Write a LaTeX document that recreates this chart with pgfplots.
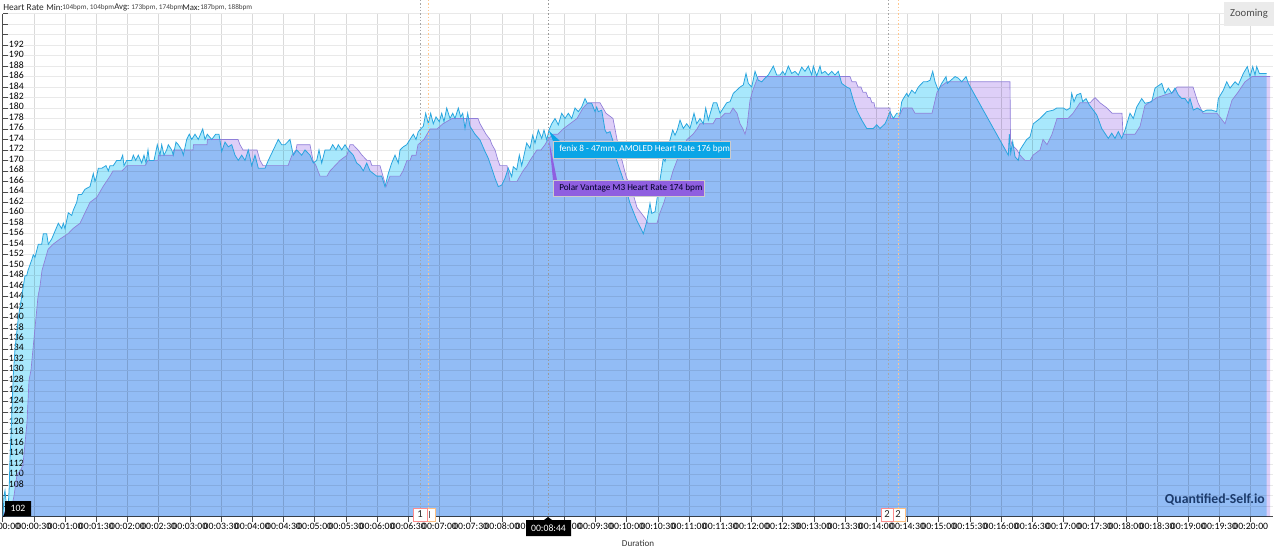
\documentclass[border=0pt]{standalone}
\usepackage{fontspec}
\setmainfont{Carlito}
\usepackage{pgfplots}
\usepackage{pgfplotstable}
\pgfplotsset{compat=1.18}
\definecolor{gridc}{HTML}{DADADA}
\definecolor{gridh}{HTML}{E9E9E9}
\definecolor{fenixfill}{RGB}{168,232,252}
\definecolor{polarfill}{RGB}{222,207,248}
\definecolor{fenixline}{HTML}{2AA5DE}
\definecolor{polarline}{HTML}{8F7FD8}
\definecolor{tipblue}{HTML}{0AA5E6}
\definecolor{tippurple}{HTML}{8F5FE0}
\definecolor{wm}{HTML}{1B3A6B}
\newcommand{\fs}[1]{\fontsize{#1}{#1}\selectfont}
% p = horizontal read-off position, converted to seconds by the axis; v = bpm
\pgfplotstableread{
p v
3 102
4 106
5 107
6 105
7 104
8 103
9.3 108
10 113
11.7 121
13.3 129
15 134
16.7 137
18.3 140
20 142
21.7 144
23.3 146
25 148
26.7 148
28 149
31.7 151
33.3 152
35 151.5
38.3 154
41.7 154
43.3 156
46.7 156
48.3 154
51.7 155
55 156.5
58.3 158
61.7 157
63.3 158
65 157
68.3 160
71.7 159.5
73.3 160.5
76.7 162
78.3 163.5
81.7 163.5
85 164.5
90 165
93.3 167.5
95 166
96.7 167
98.3 168.5
101.7 168.5
106 169
108.3 168
110 169
113.3 169
116.7 170
120.7 170
122.7 171
124 169
126.7 170
131.7 170
133.3 171
135.7 170
138.3 171
141.7 169.5
144 171
146 169.5
148 172
149.3 170
154 170
157.3 173
160 171
161.7 173
164 171
166.7 172
168.3 173
171.7 172
173.3 171
176 173.5
178.3 173
181.7 172
183.3 171
186.7 174
189.3 175
191.7 174
195 175
198.3 174
202.7 176
205 174
207.3 175
211.7 174
215.7 175
219 175
221.7 171.7
225 173.5
228.3 172.6
231.7 173
235 171
238.3 170
241.7 171
245 170
248.3 172
251.7 169
255 171
258.3 168.5
265 168.5
268.3 170
273.3 172
278.3 174
281.7 173
285 173
290 174
293.3 171
296.7 172
301.7 171
305 172
310 171
313.3 169.5
316.7 170
319 172
321.7 169.5
325 172
330 172
332.7 173
336 172
338.3 173
341.7 172
345 173
348.3 172
353.3 171
356.7 169.5
360 169
363.3 168
366.7 169.5
370 168
373.3 167.5
376.7 167
381.7 167
385 165
388.3 167.5
391.7 169.5
395 171
398.3 169.5
400 172
403.3 172.6
406.7 173
410 174
413.3 175
416 174
418.3 175.5
420.7 176
423.3 176.5
425.7 179
428.3 177
430.7 179
433.3 177
436 178.3
439.3 177.4
441.7 179
444 177.4
446.7 180
450 178
452.7 179
455 178
458.3 180
460.7 178.3
462.7 179
465 176.1
467.7 179
470 176.5
471.7 176
475 175
480 173.9
485 171.7
488.3 170.4
491.7 168.5
495 166.6
498.3 165
501.7 165.3
505 166.6
508.3 168.5
511.7 166.9
513.3 168.8
516.7 168.2
519.3 171
521.7 169
524 171
526.7 173.3
530 172.3
532.7 174.8
535 173.3
538.3 175.8
541.7 174.2
544 175.8
546.7 173.9
549 175.8
551.7 177
555 178
558.3 176.8
561.7 179
565 178
568.3 179
571.7 178
575 180
578.3 179.3
581.7 180.2
585 181.8
587.3 180.9
591.7 180.9
595 179.3
596.7 180.2
598.3 179.3
601.7 179.6
605 175.8
606.7 175.2
610 175.5
613.3 173.5
616.7 170
623.3 166.3
630 161.8
636.7 158.6
641.7 156.7
643.3 156
646.7 158.3
650 161.8
651.7 159.9
655 160.2
660 166.3
663.3 170.4
665 169.8
670 173.9
672.7 175.8
675 174.8
677.3 175.8
680 177.7
683.3 176.1
686.7 177
690 176.1
694 179
696.7 177
700 178
703.3 177
705.7 180
708.3 177.7
713.3 181
716.7 181
720 179
726.7 181
730 181.2
733.3 182.8
736.7 183.4
740 184
743.3 184.4
746 186.6
748.3 184.7
751.7 184
755 187
758.3 185.3
761.7 185
765 185.7
768.3 186.3
773.3 188
776.7 186.3
780 186.3
782.7 187
785 186.3
788.3 188
791.7 186.6
795 187
798.3 186.3
801.7 187.8
805 187
808.3 188
811.7 186.3
813.3 188
816.7 186.1
820 188
821.7 186.6
825 187
828.3 186.3
831.7 187
835 186.3
838.3 187
841.7 184.7
846.7 184
850 183.7
853.3 181.5
856.7 179.6
861.7 177.7
866.7 176.1
873.3 176.1
876.7 176.8
880 176.1
885 177
886.7 177.7
890 179.3
893.3 178
896.7 179
900 179
901.7 181.2
903.3 181.8
906.7 182.8
908.3 182.2
911.7 183.4
915 182.8
918.3 184
923.3 185
926.7 185
930 185.3
932.7 187
935 185
938.3 183.4
941.7 184.7
946 186
947.3 184.7
955 186
958.3 185.7
961.7 185
966 186
968.3 184.7
1008.3 171
1009.3 175
1010.7 171.4
1012.7 173.6
1015 170.7
1018.3 170
1020 172
1023.3 173
1026.7 174
1030 174.5
1031.7 175.8
1033.3 177
1040 178
1046.7 179.3
1053.3 179.6
1056.7 180
1063.3 180
1066.7 179.6
1070 180
1071.7 182.8
1074 181.2
1076.7 182.5
1080.7 182.8
1082.7 181.2
1086 181.8
1089.3 180.6
1096.7 178.7
1101.7 176.1
1108.3 174.2
1111.7 175.2
1115 174.2
1118.3 175.5
1121.7 174.2
1125 175.8
1130 179
1133.3 178
1136.7 180.2
1141.7 181.8
1145 180.9
1151.7 181.2
1155 183.8
1161.7 184.7
1165 182.8
1168.3 183.8
1171.7 182.8
1175 183.8
1178.3 182.5
1181.7 181.8
1185 181.8
1188.3 180.9
1190 181.8
1193.3 179.6
1197.3 180
1203.3 179.3
1206.7 179.6
1211.7 179.6
1216.7 179.3
1218.3 181.8
1223.3 183.4
1226.7 185
1230 183.8
1235 185
1238.3 184.4
1243.3 186.6
1247.3 187.9
1250 186
1252.7 187.9
1255 186.3
1256.7 187.9
1259.3 186.6
1266.7 186.6
}\fenix
\pgfplotstableread{
p v
3 102
5 103
8 104
12 104
14 106
17 110
21 111
23 112
25 116
27 120
28 124
29 128
31 130
33 134
35 138
37 142
38 144
40 146
42 149
45 151
48 153
53 154
60 155
68 156
73 157
80 158
85 160
90 162
97 163
103 165
110 167
113 168
122 168
127 169
145 169
148 170
158 170
158.5 171
173 171
173.5 172
193 172
193.5 173
207 173
207.5 174
238 174
240 173
243 172
257 172
260 170
263 169
288 169
290 170
292 171
296 172
297 173
310 173
313 170
316 169
320 167
327 167
330 168
335 169
340 170
347 171
350 173
353 173
358 172
362 171
367 170
370 170
372 169
380 169
383 167
386 165
390 167
400 167
403 168
407 170
410 170
412 171
416 171
418 173
424 174
430 176
437 176
443 177
452 178
478 178
480 177
483 176
486 175
490 174
492 173
495 172
498 170
500 169
507 169
508 168
510 166
517 166
520 167
523 168
527 169
530 170
537 172
541 172
545 173
548 174
553 175
558 175
563 176
570 177
577 178
580 179
583 180
588 181
600 181
603 180
606 179
613 178
615 176
617 174
619 172
622 170
626 167
630 165
634 163
637 161
641 160
645 159
648 158
657 158
660 160
664 162
667 164
670 166
673 168
677 170
680 172
684 173
687 174
693 175
697 176
700 177
713 177
716 178
720 178
725 179
730 179
733 180
737 179
740 177
743 176
745 175
747 176.5
750 181.5
753 183.5
758 186
850 186
852 185
856 185
858 184
861 184
863 183
866 183
868 182
870 182
872 181
874 181
875 180
890 180
890.5 178
898 178
903 180
912 180
915 179
932 179
937 183
940 184
947 185
1010 185
1010.5 174
1012 173
1017 172
1020 171
1025 170
1030 170
1033 171
1040 172
1043 174
1047 173
1052 175
1057 178
1068 178
1073 179
1080 181
1090 181
1095 182
1100 181
1107 180
1112 179
1122 179
1123 175
1135 175
1140 176.5
1145 180.5
1157 182
1173 183
1177 184
1193 184
1198 181
1203 179
1217 179
1225 177
1232 181.5
1238 183
1245 185
1252 186
1270 186
}\polar
\begin{document}
\begin{tikzpicture}
\useasboundingbox (0,0) rectangle (960pt,415.5pt);
\begin{axis}[
  at={(2.025pt,27.975pt)}, anchor=south west,
  scale only axis, width=952.7pt, height=377.25pt,
  xmin=0, xmax=1221.4, ymin=102, ymax=198,
  axis x line*=bottom, axis y line*=left,
  axis line style={-, draw=black!70, line width=0.5pt},
  grid=major,
  x grid style={draw=gridc, line width=0.5pt},
  y grid style={draw=gridh, line width=0.5pt},
  xtick={0,30,...,1200},
  xticklabels={00:00:00,00:00:30,00:01:00,00:01:30,00:02:00,00:02:30,00:03:00,00:03:30,00:04:00,00:04:30,00:05:00,00:05:30,00:06:00,00:06:30,00:07:00,00:07:30,00:08:00,00:08:30,00:09:00,00:09:30,00:10:00,00:10:30,00:11:00,00:11:30,00:12:00,00:12:30,00:13:00,00:13:30,00:14:00,00:14:30,00:15:00,00:15:30,00:16:00,00:16:30,00:17:00,00:17:30,00:18:00,00:18:30,00:19:00,00:19:30,00:20:00},
  ytick={102,104,...,198},
  yticklabels={,,,108,110,112,114,116,118,120,122,124,126,128,130,132,134,136,138,140,142,144,146,148,150,152,154,156,158,160,162,164,166,168,170,172,174,176,178,180,182,184,186,188,190,192,,,},
  tick style={draw=black!70, line width=0.5pt},
  xtick align=outside, ytick align=inside,
  major tick length=3.75pt,
  typeset ticklabels with strut,
  x tick label style={font=\fs{7.3}, text=black, inner sep=0pt, yshift=-0.3pt},
  y tick label style={font=\fs{7.3}, text=black, anchor=west, inner sep=0pt, xshift=4.5pt},
  clip=true,
]
\addplot[draw=none, fill=polarfill, blend mode=multiply]
  table[x expr={(\thisrow{p}-2.7)/1.04}, y=v] {\polar} \closedcycle;
\addplot[draw=none, fill=fenixfill, blend mode=multiply]
  table[x expr={(\thisrow{p}-2.7)/1.04}, y=v] {\fenix} \closedcycle;
\addplot[polarline, line width=0.5pt, no marks]
  table[x expr={(\thisrow{p}-2.7)/1.04}, y=v] {\polar};
\addplot[fenixline, line width=0.6pt, no marks]
  table[x expr={(\thisrow{p}-2.7)/1.04}, y=v] {\fenix};
\end{axis}
\begin{scope}[x=.75pt, y=-.75pt, shift={(0,415.5pt)}]
  % header
  \node[anchor=west, inner sep=0, text=black!85] at (3,7.5) {\fs{7}Heart Rate};
  \node[anchor=west, inner sep=0, text=black!85] at (46,7.5) {\fs{6.6}Min:};
  \node[anchor=west, inner sep=0, text=black!75] at (62,8) {\fs{5.4}104bpm, 104bpm};
  \node[anchor=west, inner sep=0, text=black!85] at (114,7.5) {\fs{6.6}Avg:};
  \node[anchor=west, inner sep=0, text=black!75] at (131,8) {\fs{5.4}173bpm, 174bpm};
  \node[anchor=west, inner sep=0, text=black!85] at (182,7.5) {\fs{6.6}Max:};
  \node[anchor=west, inner sep=0, text=black!75] at (200,8) {\fs{5.4}187bpm, 188bpm};
  % zoom button
  \fill[black!8] (1224,2) rectangle (1274,26);
  \node[text=black!70, inner sep=0] at (1249,14) {\fs{8}Zooming};
  % markers
  \draw[dash pattern=on 1pt off 1.5pt, draw=black!35, line width=0.5pt] (420,0) -- (420,508);
  \draw[dash pattern=on 1pt off 1.5pt, draw=orange!45, line width=0.5pt] (428,0) -- (428,508);
  \draw[dash pattern=on 1pt off 1.5pt, draw=black!35, line width=0.5pt] (888,0) -- (888,508);
  \draw[dash pattern=on 1pt off 1.5pt, draw=orange!45, line width=0.5pt] (898,0) -- (898,508);
  \draw[dash pattern=on 1pt off 1.5pt, draw=black!40, line width=0.5pt] (548,0) -- (548,517);
  \draw[fill=white, draw=orange!50, line width=0.4pt] (425,508) rectangle (435,521);
  \draw[fill=white, draw=red!45, line width=0.4pt] (413,508) rectangle (427,521);
  \node[inner sep=0, text=black!85] at (420,514.5) {\fs{8}1};
  \draw[draw=black!60, line width=0.4pt] (429,511) -- (429,518);
  \draw[fill=white, draw=orange!50, line width=0.4pt] (892,508) rectangle (905,521);
  \draw[fill=white, draw=red!45, line width=0.4pt] (881,508) rectangle (893,521);
  \node[inner sep=0, text=black!85] at (887,514.5) {\fs{8}2};
  \node[inner sep=0, text=black!85] at (898,514.5) {\fs{8}2};
  % tooltips
  \fill[tippurple] (549,140) -- (557,180) -- (553,180) -- cycle;
  \fill[tipblue] (549,131) -- (553,141) -- (560,141) -- cycle;
  \draw[fill=tipblue, draw=white!80!black, line width=0.3pt] (553,141) rectangle (730,158);
  \node[anchor=west, inner sep=0, text=white] at (559,149.5) {\fs{6.9}fenix 8 - 47mm, AMOLED Heart Rate 176 bpm};
  \draw[fill=tippurple, draw=white!80!black, line width=0.3pt] (553,180) rectangle (704,196);
  \node[anchor=west, inner sep=0, text=black!85!blue] at (559,188) {\fs{6.9}Polar Vantage M3 Heart Rate 174 bpm};
  % value flags
  \fill[black] (3,517) -- (5,512) -- (5,501) -- (31,501) -- (31,516) -- (6,516) -- cycle;
  \node[inner sep=0, text=white] at (18,508.5) {\fs{7.3}102};
  \fill[black] (548,517) -- (552,520) -- (571,520) -- (571,536) -- (526,536) -- (526,520) -- (544,520) -- cycle;
  \node[inner sep=0, text=white] at (548.5,528) {\fs{7.3}00:08:44};
  % axis title and watermark
  \node[inner sep=0, text=black!80] at (638,543.5) {\fs{6.8}Duration};
  \node[anchor=east, inner sep=0, text=wm] at (1265,499.5) {\fs{10.3}\bfseries Quantified-Self.io};
\end{scope}
\end{tikzpicture}
\end{document}
